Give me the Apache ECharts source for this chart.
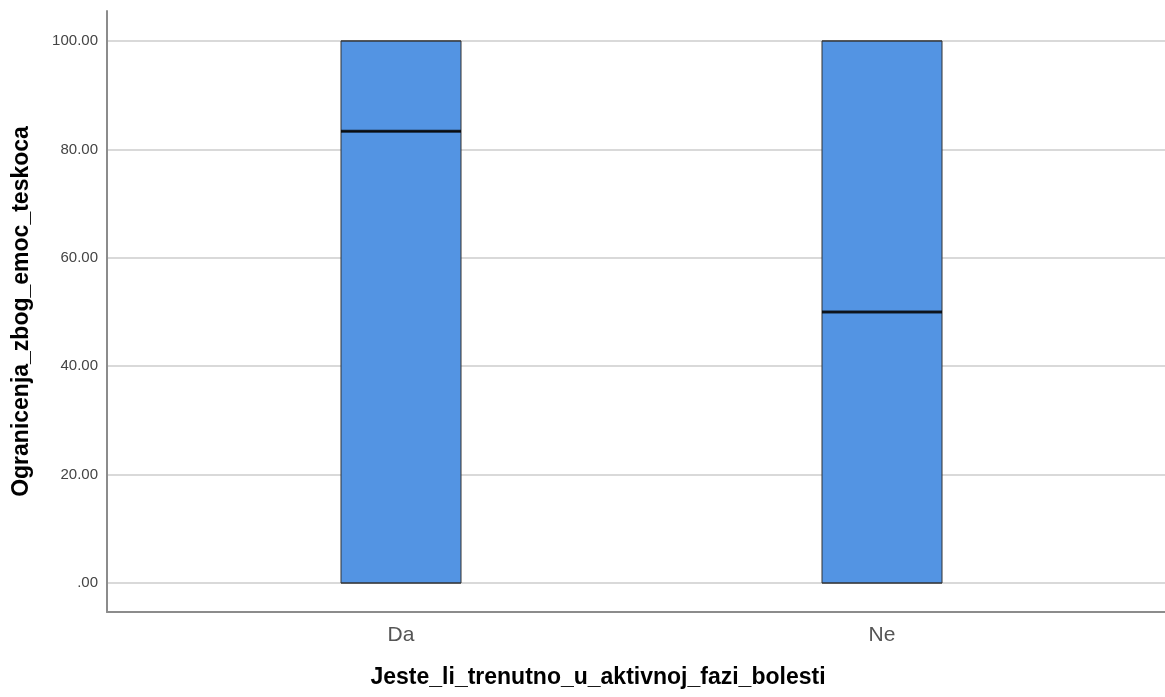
<!DOCTYPE html>
<html>
<head>
<meta charset="utf-8">
<script src="https://cdn.jsdelivr.net/npm/echarts@6/dist/echarts.min.js"></script>
<style>html,body{margin:0;padding:0;background:#fff;}#chart{width:1165px;height:697px;}</style>
</head>
<body>
<div id="chart"></div>
<script>
const categories = ['Da', 'Ne'];
const whiskerLow = [0, 0];
const quartile1 = [0, 0];
const medians = [83.33, 50];
const quartile3 = [100, 100];
const whiskerHigh = [100, 100];
const yTickValues = [0, 20, 40, 60, 80, 100];
const yTitle = 'Ogranicenja_zbog_emoc_teskoca';
const xTitle = 'Jeste_li_trenutno_u_aktivnoj_fazi_bolesti';

const yMin = -5.35, yMax = 105.53;
const FONT = 'Liberation Sans, Arial, sans-serif';

const boxData = categories.map((c, i) => [whiskerLow[i], quartile1[i], medians[i], quartile3[i], whiskerHigh[i]]);
const medianData = categories.map((c, i) => [c, medians[i]]);

const chart = echarts.init(document.getElementById('chart'), null, {renderer: 'canvas'});
chart.setOption({
  animation: false,
  backgroundColor: '#ffffff',
  grid: [
    {left: 107, right: 0, top: 41, bottom: 114},
    {left: 107, right: 0, top: 11, bottom: 85},
    {left: 160.5, right: 42.5, top: 11, bottom: 85},
    {left: 107, right: 76, top: 11, bottom: 85}
  ],
  xAxis: [
    {gridIndex: 0, type: 'value', show: false, min: 0, max: 1},
    {gridIndex: 1, type: 'value', min: 0, max: 1,
      axisLine: {show: true, onZero: false, lineStyle: {color: '#8c8c8c', width: 2}},
      axisTick: {show: false}, axisLabel: {show: false}, splitLine: {show: false}
    },
    {gridIndex: 2, type: 'category', data: categories, boundaryGap: true,
      axisLine: {show: false}, axisTick: {show: false},
      axisLabel: {fontFamily: FONT, fontSize: 21, color: '#555', margin: 13},
      splitLine: {show: false}
    },
    {gridIndex: 3, type: 'value', min: 0, max: 1,
      axisLine: {show: false, onZero: false}, axisTick: {show: false}, axisLabel: {show: false}, splitLine: {show: false},
      name: xTitle, nameLocation: 'middle', nameGap: 54,
      nameTextStyle: {fontFamily: FONT, fontSize: 23, fontWeight: 'bold', color: '#000'}
    }
  ],
  yAxis: [
    {gridIndex: 0, type: 'value', min: 0, max: 100, interval: 20,
      axisLine: {show: false}, axisTick: {show: false},
      axisLabel: {fontFamily: FONT, fontSize: 15, color: '#444', margin: 9,
        formatter: v => yTickValues.includes(v) ? (v === 0 ? '.00' : v.toFixed(2)) : ''},
      splitLine: {show: true, lineStyle: {color: '#d9d9d9', width: 2}}
    },
    {gridIndex: 1, type: 'value', min: yMin, max: yMax,
      axisLine: {show: true, onZero: false, lineStyle: {color: '#8c8c8c', width: 2}},
      axisTick: {show: false}, axisLabel: {show: false}, splitLine: {show: false},
      name: yTitle, nameLocation: 'middle', nameGap: 74, nameRotate: 90,
      nameTextStyle: {fontFamily: FONT, fontSize: 23, fontWeight: 'bold', color: '#000'}
    },
    {gridIndex: 2, type: 'value', min: yMin, max: yMax, show: false},
    {gridIndex: 3, type: 'value', min: yMin, max: yMax, show: false}
  ],
  series: [
    {
      type: 'boxplot', xAxisIndex: 2, yAxisIndex: 2,
      data: boxData,
      boxWidth: [120, 120],
      itemStyle: {color: '#5394e3', borderColor: '#333333', borderWidth: 1},
      emphasis: {disabled: true},
      z: 3
    },
    {
      type: 'scatter', xAxisIndex: 2, yAxisIndex: 2,
      data: medianData,
      symbol: 'rect', symbolSize: [120, 3],
      itemStyle: {color: '#000'},
      emphasis: {disabled: true},
      z: 4
    }
  ]
});
</script>
</body>
</html>
